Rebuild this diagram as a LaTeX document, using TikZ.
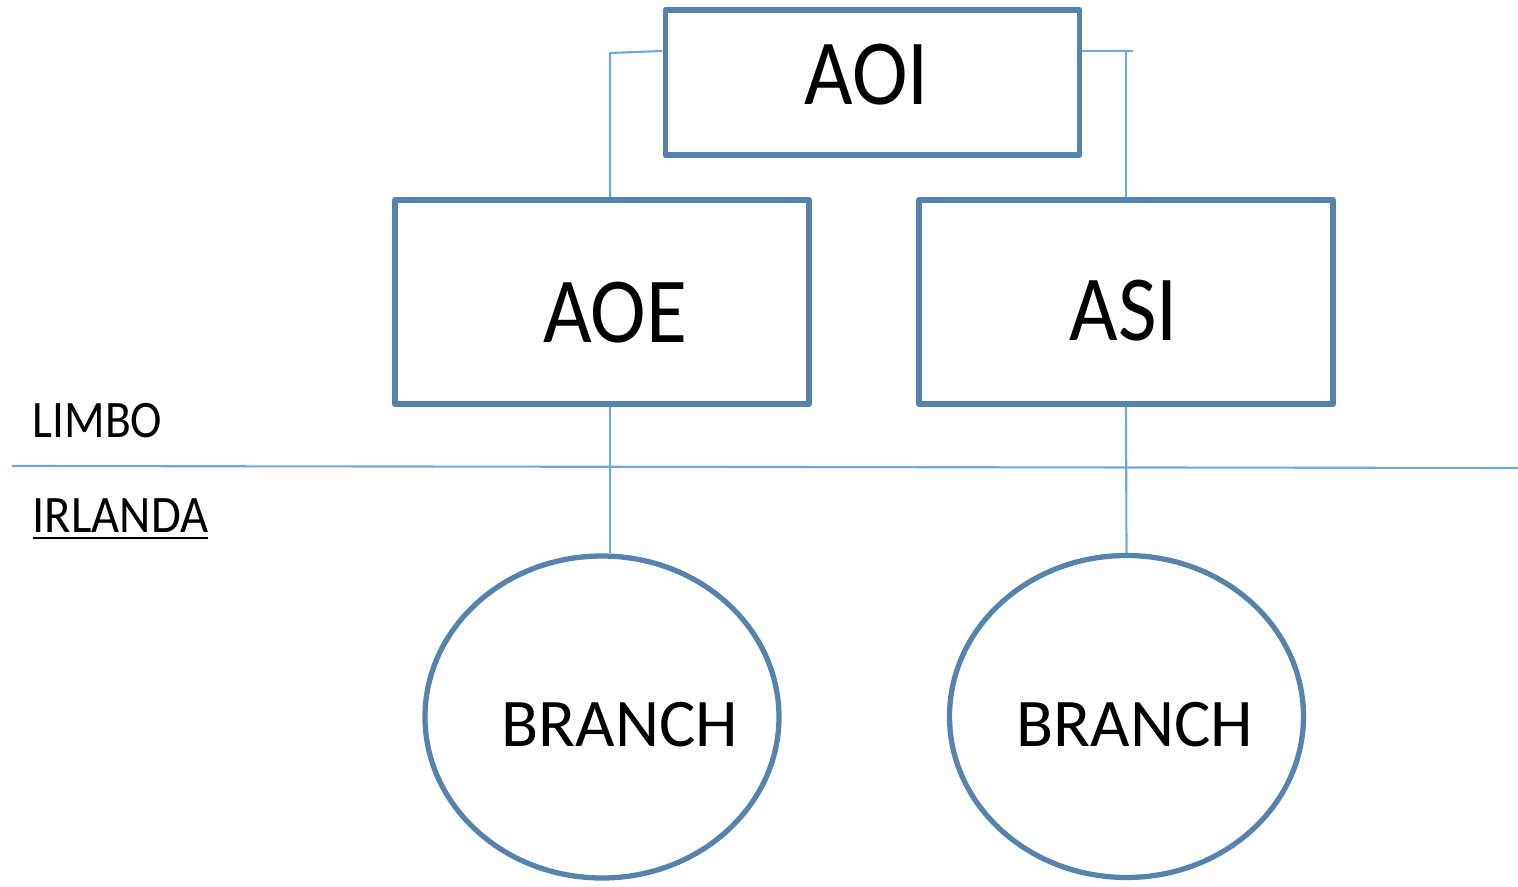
\documentclass[tikz,border=0pt]{standalone}
\usepackage{fontspec}
\setmainfont{Carlito}
\usetikzlibrary{shapes.geometric}
\definecolor{boxblue}{RGB}{86,131,171}
\definecolor{linkblue}{RGB}{111,168,220}
\newcommand{\narrowtext}[2]{\fontsize{#1}{#1}\selectfont\scalebox{0.9}[1]{#2}}
\tikzset{
  unit/.style={draw=boxblue,line width=1.7pt,minimum width=4.14cm,inner sep=0pt},
  branch/.style={draw=boxblue,line width=1.5pt,ellipse,minimum width=3.54cm,minimum height=3.22cm,inner sep=0pt},
  link/.style={draw=linkblue,line width=0.6pt},
  tag/.style={anchor=base west,inner sep=0pt},
}
\begin{document}
\begin{tikzpicture}[line join=round]
    \useasboundingbox (0,0) rectangle (15.18,-8.87);
    % boxes
    \node[unit,minimum height=1.45cm] (aoi) at (8.725,-0.825) {};
    \node[unit,minimum height=2.04cm] (aoe) at (6.02,-3.02) {};
    \node[unit,minimum height=2.04cm] (asi) at (11.26,-3.02) {};
    \node[branch] (br1) at (6.02,-7.17) {};
    \node[branch] (br2) at (11.265,-7.165) {};
    \node (aoitxt) at (8.665,-0.75) {\narrowtext{26.5}{AOI}};
    \node (aoetxt) at (6.15,-3.125) {\narrowtext{26.5}{AOE}};
    \node (asitxt) at (11.24,-3.11) {\narrowtext{26.5}{ASI}};
    \node (br1txt) at (6.2,-7.25) {\fontsize{19.4}{22}\selectfont BRANCH};
    \node (br2txt) at (11.35,-7.25) {\fontsize{19.4}{22}\selectfont BRANCH};
    % limbo line
    \coordinate (l1) at (0.12,-4.66);
    \coordinate (l2) at (15.18,-4.68);
    \draw[link] (l1) -- (l2);
    \node[tag] (limbo) at (0.32,-4.38) {\narrowtext{15}{LIMBO}};
    \node[tag] (irl) at (0.32,-5.33) {\fontsize{15}{15}\selectfont\underline{\scalebox{0.92}[1]{IRLANDA}}};
    % connectors
    \coordinate (c1) at (6.10,-0.53);
    \coordinate (c2) at (11.33,-0.51);
    \draw[link] (aoi.west |- 0,-0.51) -- (c1) -- (c1 |- aoe.north);
    \draw[link] (aoi.east |- 0,-0.51) -- (c2);
    \draw[link] (asi.north) -- (asi.north |- c2);
    \draw[link] (c1 |- aoe.south) -- (c1 |- br1.north);
    \draw[link] (asi.south) -- (br2.north);
\end{tikzpicture}
\end{document}
